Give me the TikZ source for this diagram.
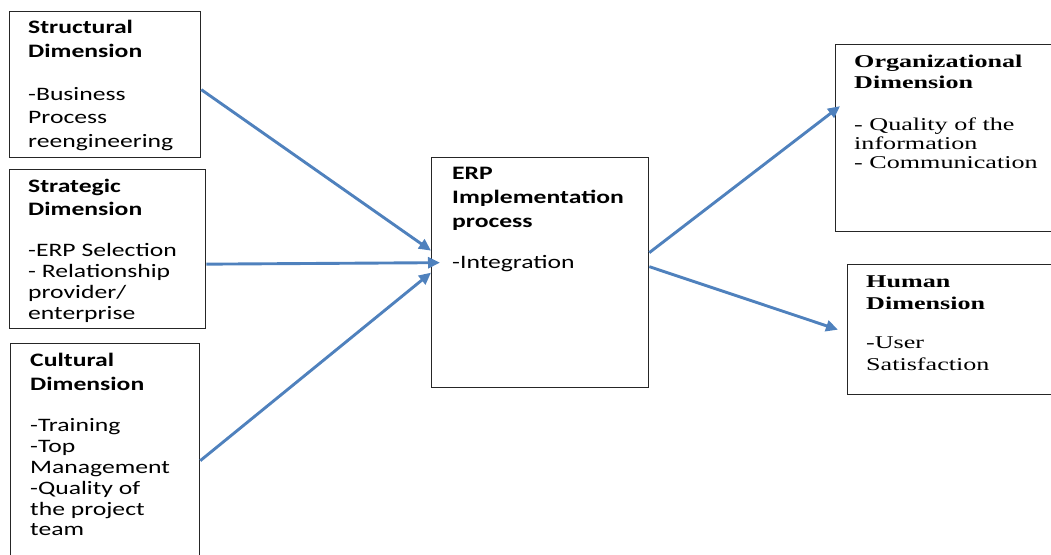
\documentclass[tikz,border=0pt]{standalone}
\usepackage{fontspec}
\usetikzlibrary{arrows.meta}
\newfontfamily\calfont[FakeStretch=1.35]{Carlito}
\newfontfamily\tmsfont[FakeStretch=1.45]{Liberation Serif}
\definecolor{arrowblue}{HTML}{4F81BD}
\tikzset{
  box/.style={draw=black!85, line width=1.3pt, anchor=north west, inner sep=0pt},
  cal/.style={anchor=base west, inner sep=0pt, font=\calfont\fontsize{19}{23}\selectfont},
  calb/.style={anchor=base west, inner sep=0pt, font=\calfont\bfseries\fontsize{19}{23}\selectfont},
  tms/.style={anchor=base west, inner sep=0pt, font=\tmsfont\fontsize{18}{20}\selectfont},
  tmsb/.style={anchor=base west, inner sep=0pt, font=\tmsfont\bfseries\fontsize{18}{20}\selectfont},
  link/.style={draw=arrowblue, line width=2.9pt, -{Triangle[length=12pt,width=11pt]}}
}
\begin{document}
\begin{tikzpicture}[x=1pt,y=-1pt]
\useasboundingbox (0,0) rectangle (1051,554);
% boxes
\node[box, minimum width=191pt, minimum height=146pt] (struct) at (9,11) {};
\node[box, minimum width=196pt, minimum height=159pt] (strat) at (9,169) {};
\node[box, minimum width=189pt, minimum height=230pt] (cult) at (10,343) {};
\node[box, minimum width=217pt, minimum height=230pt] (erp) at (431,157) {};
\node[box, minimum width=230pt, minimum height=187pt] (org) at (835,44) {};
\node[box, minimum width=220pt, minimum height=130pt] (human) at (847,264) {};
% structural
\foreach \y/\t [count=\i] in {33/Structural, 57/Dimension}
  \node[calb] (sth\i) at (28,\y) {\t};
\foreach \y/\t [count=\i] in {100/-Business, 123/Process, 147/reengineering}
  \node[cal] (stb\i) at (28,\y) {\t};
% strategic
\foreach \y/\t [count=\i] in {192/Strategic, 215/Dimension}
  \node[calb] (sgh\i) at (28,\y) {\t};
\foreach \y/\t [count=\i] in {256/-ERP Selection, 277/- Relationship, 298/{provider/}, 319/enterprise}
  \node[cal] (sgb\i) at (28,\y) {\t};
% cultural
\foreach \y/\t [count=\i] in {366/Cultural, 390/Dimension}
  \node[calb] (cuh\i) at (30,\y) {\t};
\foreach \y/\t [count=\i] in {431/-Training, 452/-Top, 473/Management, 494/-Quality of, 515/the project, 535/team}
  \node[cal] (cub\i) at (30,\y) {\t};
% ERP
\foreach \y/\t [count=\i] in {179/ERP, 203/Implementation, 227/process}
  \node[calb] (erh\i) at (452,\y) {\t};
\node[cal] (erb1) at (452,268) {-Integration};
% organizational
\foreach \y/\t [count=\i] in {67/Organizational, 88/Dimension}
  \node[tmsb] (orh\i) at (854,\y) {\t};
\foreach \y/\t [count=\i] in {130/- Quality of the, 149/information, 168/- Communication}
  \node[tms] (orb\i) at (854,\y) {\t};
% human
\foreach \y/\t [count=\i] in {287/Human, 309/Dimension}
  \node[tmsb] (huh\i) at (866,\y) {\t};
\foreach \y/\t [count=\i] in {348/-User, 370/Satisfaction}
  \node[tms] (hub\i) at (866,\y) {\t};
% connectors
\draw[link] ([yshift=-5pt]struct.east) -- ([yshift=22pt]erp.west);
\draw[link] ([yshift=-15pt]strat.east) -- ([xshift=9pt,yshift=10pt]erp.west);
\draw[link] ([yshift=-2pt]cult.east) -- (erp.west);
\draw[link] ([yshift=20pt]erp.east) -- ([xshift=5pt,yshift=32pt]org.west);
\draw[link] ([yshift=6pt]erp.east) -- ([xshift=-9pt,yshift=0pt]human.west);
\end{tikzpicture}
\end{document}
